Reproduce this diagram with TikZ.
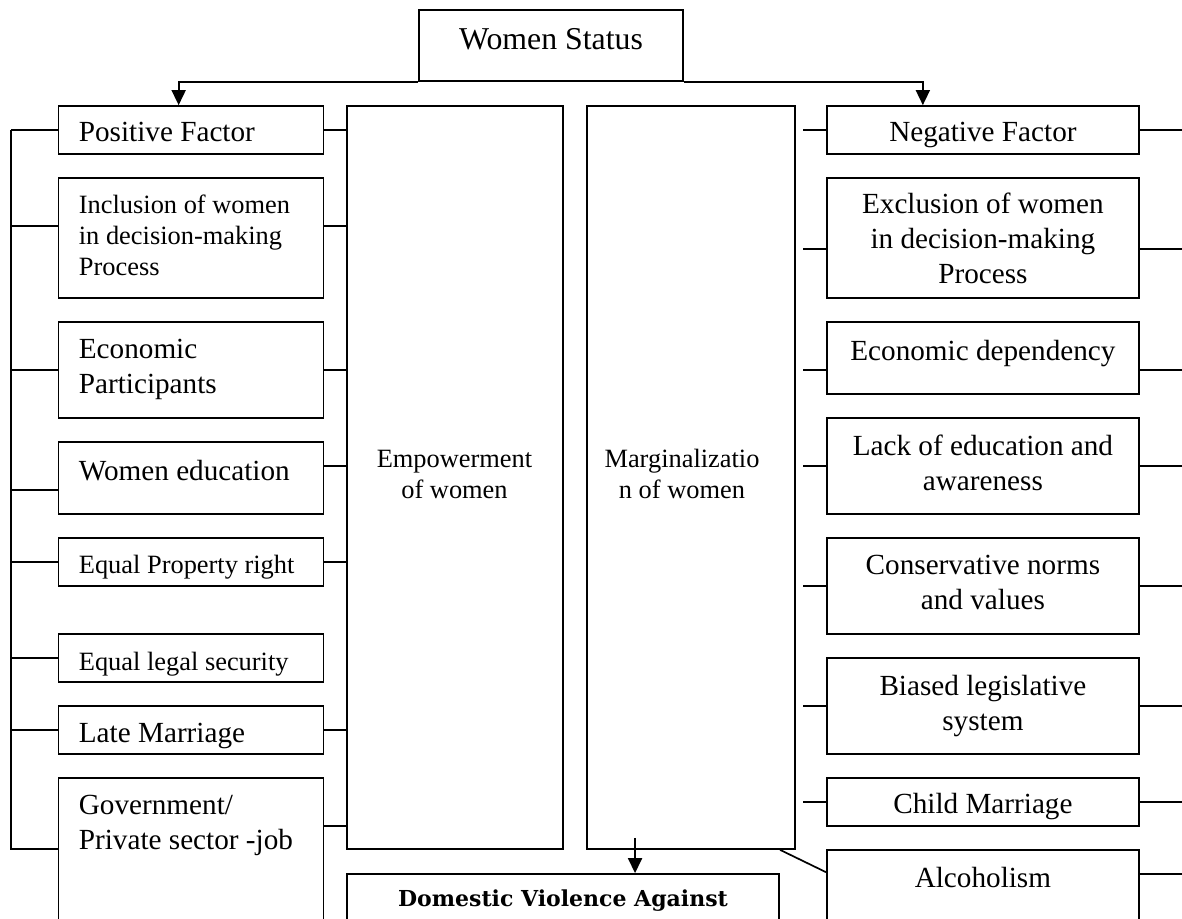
\documentclass[tikz,border=0pt]{standalone}
\usepackage{fontspec}
\setmainfont{Liberation Serif}
\newfontfamily\dvfont{DejaVu Serif}
\usetikzlibrary{arrows.meta,calc,fit}

\tikzset{
  box/.style={draw, line width=0.85pt, inner sep=0pt},
  wire/.style={line width=0.85pt},
  arr/.style={line width=0.85pt, -{Triangle[length=7.5pt,width=7pt]}},
  big/.style={inner sep=0pt, font=\fontsize{14.6pt}{17.3pt}\selectfont},
  small/.style={inner sep=0pt, font=\fontsize{13.2pt}{15.5pt}\selectfont},
}

\begin{document}
\begin{tikzpicture}[x=0.5pt, y=-0.5pt]
  \useasboundingbox (0,0) rectangle (1182,919);
  \clip (0,0) rectangle (1182,919);

  % top box
  \node[box, fit={(419,10) (683,81)}] (ws) {};
  \node[inner sep=0pt, font=\fontsize{15.9pt}{19pt}\selectfont, anchor=north] (ws-t) at (551,28) {Women Status};

  % middle columns
  \node[box, fit={(347,106) (563.3,849)}] (emp) {};
  \node[small, align=center, anchor=north] (emp-t) at (454.5,450) {Empowerment\\of women};
  \node[box, fit={(586.7,106) (795,849)}] (marg) {};
  \node[small, align=center, anchor=north] (marg-t) at (682,449) {Marginalizatio\\n of women};
  \node[box, fit={(347,874) (779.2,960)}] (dv) {};
  \node[inner sep=0pt, font=\dvfont\bfseries\fontsize{11pt}{13pt}\selectfont, anchor=north] (dv-t) at (563,889) {Domestic Violence Against};

  % positive side
  \node[box, fit={(58.5,106) (323.4,154)}] (pf) {};
  \node[box, fit={(58.5,178) (323.4,298)}] (inc) {};
  \node[box, fit={(58.5,322) (323.4,418)}] (eco) {};
  \node[box, fit={(58.5,442) (323.4,514)}] (wed) {};
  \node[box, fit={(58.5,538) (323.4,586)}] (epr) {};
  \node[box, fit={(58.5,634) (323.4,682)}] (els) {};
  \node[box, fit={(58.5,706) (323.4,754)}] (lm) {};
  \node[box, fit={(58.5,778) (323.4,960)}] (gov) {};
  \node[big, anchor=north west] (pf-t) at (78.5,122) {Positive Factor};
  \node[small, align=left, anchor=north west] (inc-t) at (78.5,195) {Inclusion of women\\in decision-making\\Process};
  \node[big, align=left, anchor=north west] (eco-t) at (78.5,339) {Economic\\Participants};
  \node[big, anchor=north west] (wed-t) at (78.5,460) {Women education};
  \node[small, anchor=north west] (epr-t) at (78.5,555) {Equal Property right};
  \node[small, anchor=north west] (els-t) at (78.5,652) {Equal legal security};
  \node[big, anchor=north west] (lm-t) at (78.5,723) {Late Marriage};
  \node[big, align=left, anchor=north west] (gov-t) at (78.5,795) {Government/\\Private sector -job};

  % negative side
  \node[box, fit={(826.8,106) (1138.9,154)}] (nf) {};
  \node[box, fit={(826.8,178) (1138.9,298)}] (exc) {};
  \node[box, fit={(826.8,322) (1138.9,394)}] (edep) {};
  \node[box, fit={(826.8,418) (1138.9,514)}] (lack) {};
  \node[box, fit={(826.8,538) (1138.9,634)}] (cons) {};
  \node[box, fit={(826.8,658) (1138.9,754)}] (bias) {};
  \node[box, fit={(826.8,778) (1138.9,826)}] (cm) {};
  \node[box, fit={(826.8,850) (1138.9,960)}] (alc) {};
  \node[big, anchor=north] (nf-t) at (982.9,122) {Negative Factor};
  \node[big, align=center, anchor=north] (exc-t) at (982.9,193) {Exclusion of women\\in decision-making\\Process};
  \node[big, anchor=north] (edep-t) at (982.9,340) {Economic dependency};
  \node[big, align=center, anchor=north] (lack-t) at (982.9,435) {Lack of education and\\awareness};
  \node[big, align=center, anchor=north] (cons-t) at (982.9,555) {Conservative norms\\and values};
  \node[big, align=center, anchor=north] (bias-t) at (982.9,675) {Biased legislative\\system};
  \node[big, anchor=north] (cm-t) at (982.9,793) {Child Marriage};
  \node[big, anchor=north] (alc-t) at (982.9,867) {Alcoholism};

  \coordinate (lbus) at (10.7,130);
  \coordinate (redge) at (1182,0);

  % arrows
  \draw[arr] (ws.south west) -| ($(pf.north)+(-12.3,0)$);
  \draw[arr] (ws.south east) -| ($(nf.north)+(-60,0)$);
  \draw[arr] ($(marg.south)+(-55.8,-12)$) coordinate (s) -- (s |- dv.north);

  % connectors
  \foreach \b/\dy in {pf/0, inc/-12, eco/0, wed/12, epr/0, els/0, lm/0, gov/-20}
    \draw[wire] ($(\b.west)+(0,\dy)$) -| (lbus);
  \foreach \b/\dy in {pf/0, inc/-12, eco/0, wed/-12, epr/0, lm/0, gov/-43}
    \draw[wire] ($(\b.east)+(0,\dy)$) coordinate (s) -- (s -| emp.west);
  \foreach \b/\dy in {nf/0, exc/11, edep/12, lack/0, cons/0, bias/0, cm/0}
    \draw[wire] ($(\b.west)+(0,\dy)$) coordinate (s) -- ($(s -| marg.east)+(7.6,0)$);
  \foreach \b/\dy in {nf/0, exc/11, edep/12, lack/0, cons/0, bias/0, cm/0, alc/-31}
    \draw[wire] ($(\b.east)+(0,\dy)$) coordinate (s) -- (s -| redge);
  \draw[wire] ($(marg.south east)+(-15.8,0)$) -- ($(alc.north west)+(0,23)$);
\end{tikzpicture}
\end{document}
